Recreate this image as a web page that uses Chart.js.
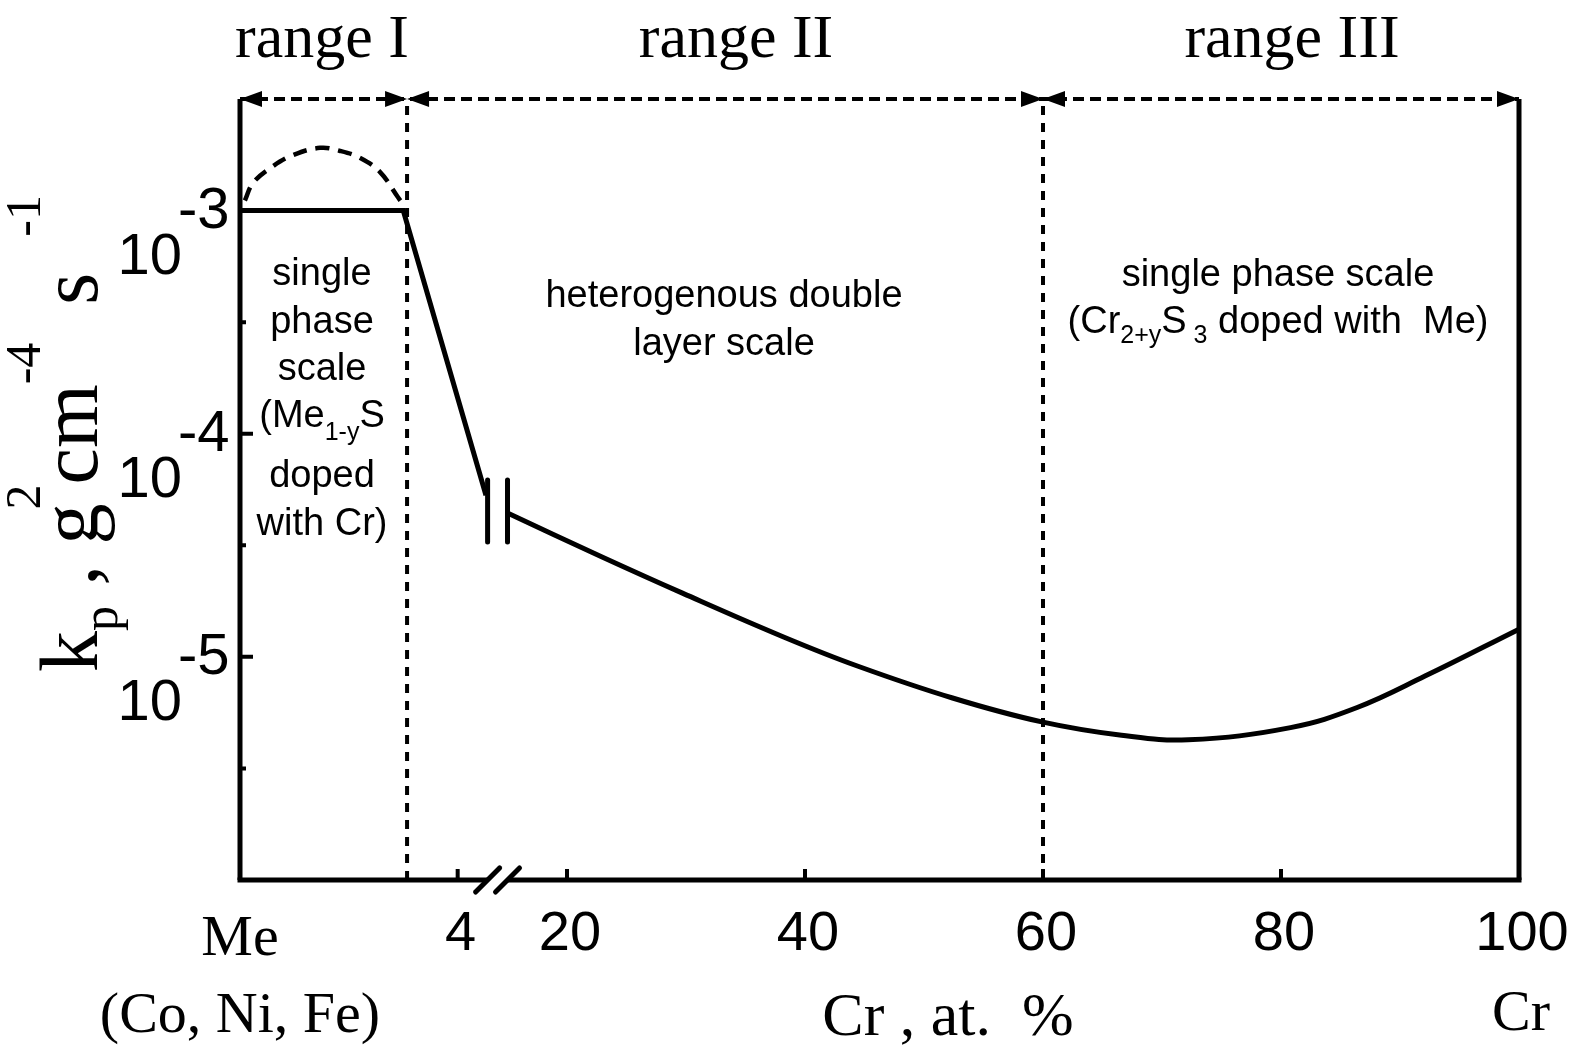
<!DOCTYPE html>
<html>
<head>
<meta charset="utf-8">
<script src="https://cdn.jsdelivr.net/npm/chart.js@4"></script>
<style>
  html, body { margin: 0; padding: 0; background: #fff; }
  canvas { display: block; }
</style>
</head>
<body>
<canvas id="chart" width="1575" height="1048"></canvas>
<script>
/////////////////////
//    Data         //
/////////////////////
// Cr content in at.% and parabolic rate constant kp (g^2 cm^-4 s^-1)
const rangeICr = [0, 3.0, 4.52];                 // plateau then steep drop
const rangeIKp = [1e-3, 1e-3, 5.3e-5];
const arcCr = [0.09, 0.24, 0.59, 0.97, 1.47, 1.84, 2.21, 2.57, 2.90, 2.98];   // dashed hump
const arcKp = [1.11e-3, 1.33e-3, 1.57e-3, 1.77e-3, 1.91e-3, 1.85e-3, 1.72e-3, 1.49e-3, 1.15e-3, 1.08e-3];
const curveCr = [15, 22.9, 29.7, 38.2, 44.4, 52.4, 59.9, 66.6, 72.2, 80.8, 86.4, 92.1, 100];
const curveKp = [4.41e-5, 2.81e-5, 1.93e-5, 1.228e-5, 9.10e-6, 6.54e-6, 5.11e-6, 4.45e-6, 4.25e-6, 4.82e-6, 5.93e-6, 8.20e-6, 1.331e-5];
const breakCr = [4.55, 15];                      // the "||" break in the curve
const breakKp = [6.2e-5, 3.27e-5];
const boundaryCr = [3.07, 60];                   // range boundaries
const rangeEdgeCr = [0, 3.07, 60, 100];
const rangeLabels = ['range I', 'range II', 'range III'];
const xTickCr = [4, 20, 40, 60, 80, 100];
const xTickLabels = ['4', '20', '40', '60', '80', '100'];
const yTickKp = [1e-3, 1e-4, 1e-5];
const yTickExp = ['-3', '-4', '-5'];
const yMinorKp = [Math.pow(10, -3.5), Math.pow(10, -4.5), Math.pow(10, -5.5)];

const Y_MIN = 1e-6;
const Y_MAX = Math.pow(10, -2.5);

/////////////////////
//    Constants    //
/////////////////////
const SERIF = '"Liberation Serif", "Times New Roman", serif';
const SANS = '"Liberation Sans", Arial, sans-serif';
const LEFT_END = 5;          // Me side of the broken axis covers 0..5 at.%
const LEFT_ORIGIN = -7.48;   // axis position of pure Me
const LEFT_STRETCH = 4.573;  // axis units per at.% on the Me side

// Broken x axis: stretched 0-5 at.% on the left, true at.% afterwards
function axisX(cr) {
  return cr <= LEFT_END ? LEFT_ORIGIN + cr * LEFT_STRETCH : cr;
}

function toPoints(xs, ys) {
  return xs.map((cr, i) => ({ x: axisX(cr), y: ys[i] }));
}

function vertical(cr, lo, hi) {
  return [{ x: axisX(cr), y: lo }, { x: axisX(cr), y: hi }];
}

// Draw a run list [[text, font, dy, dx], ...] starting at x (align left/center)
function drawRuns(ctx, runs, x, y, align) {
  let total = 0;
  const widths = runs.map(([t, f, dy, dx]) => {
    ctx.font = f;
    const w = ctx.measureText(t).width;
    total += w + (dx || 0);
    return w;
  });
  let cx = align === 'center' ? x - total / 2 : x;
  ctx.textAlign = 'left';
  ctx.textBaseline = 'alphabetic';
  runs.forEach(([t, f, dy, dx], i) => {
    ctx.font = f;
    cx += dx || 0;
    ctx.fillText(t, cx, y + (dy || 0));
    cx += widths[i];
  });
}

function arrowHead(ctx, tipX, y, dir) {
  const len = 22, half = 8;
  ctx.beginPath();
  ctx.moveTo(tipX, y);
  ctx.lineTo(tipX - dir * len, y - half);
  ctx.lineTo(tipX - dir * len, y + half);
  ctx.closePath();
  ctx.fill();
}

const schematic = {
  id: 'schematic',
  beforeDatasetsDraw(chart) {
    const { ctx, chartArea: a, scales: { x, y } } = chart;
    ctx.save();
    ctx.strokeStyle = '#000';
    ctx.lineCap = 'butt';

    // left and right axes
    ctx.lineWidth = 5;
    ctx.beginPath();
    ctx.moveTo(a.left, a.top);
    ctx.lineTo(a.left, a.bottom);
    ctx.moveTo(a.right, a.top);
    ctx.lineTo(a.right, a.bottom);
    ctx.stroke();

    // bottom axis with the break
    const b1 = x.getPixelForValue(axisX(breakCr[0]));
    const b2 = x.getPixelForValue(axisX(breakCr[1]));
    ctx.beginPath();
    ctx.moveTo(a.left - 2.5, a.bottom);
    ctx.lineTo(b1, a.bottom);
    ctx.moveTo(b2, a.bottom);
    ctx.lineTo(a.right + 2.5, a.bottom);
    ctx.stroke();
    ctx.lineCap = 'round';
    ctx.lineWidth = 5;
    for (const bx of [b1, b2]) {
      ctx.beginPath();
      ctx.moveTo(bx - 12, a.bottom + 12);
      ctx.lineTo(bx + 12, a.bottom - 12);
      ctx.stroke();
    }

    // ticks
    ctx.lineCap = 'butt';
    ctx.lineWidth = 4;
    ctx.beginPath();
    for (const cr of xTickCr.slice(0, -1)) {
      const px = x.getPixelForValue(axisX(cr));
      ctx.moveTo(px, a.bottom);
      ctx.lineTo(px, a.bottom - 11);
    }
    for (const kp of yTickKp) {
      const py = y.getPixelForValue(kp);
      ctx.moveTo(a.left, py);
      ctx.lineTo(a.left + 13, py);
    }
    for (const kp of yMinorKp) {
      const py = y.getPixelForValue(kp);
      ctx.moveTo(a.left, py);
      ctx.lineTo(a.left + 6, py);
    }
    ctx.stroke();
    ctx.restore();
  },
  afterDraw(chart) {
    const { ctx, chartArea: a, scales: { x, y } } = chart;
    ctx.save();
    ctx.fillStyle = '#000';

    // arrowheads on the top dotted line
    const edges = rangeEdgeCr.map(cr => x.getPixelForValue(axisX(cr)));
    arrowHead(ctx, edges[0], a.top, -1);
    for (const e of edges.slice(1, -1)) {
      arrowHead(ctx, e, a.top, 1);
      arrowHead(ctx, e, a.top, -1);
    }
    arrowHead(ctx, edges[edges.length - 1], a.top, 1);

    // range titles
    const rangeCenters = [322, 736, 1292];
    ctx.font = `62px ${SERIF}`;
    ctx.textAlign = 'center';
    rangeLabels.forEach((t, i) => ctx.fillText(t, rangeCenters[i], 57));

    // y tick labels 10^n
    yTickKp.forEach((kp, i) => {
      const py = y.getPixelForValue(kp);
      ctx.font = `58px ${SANS}`;
      ctx.textAlign = 'right';
      ctx.fillText('10', 182, py + 63);
      ctx.textAlign = 'left';
      ctx.fillText(yTickExp[i], 178, py + 17);
    });

    // x tick labels
    ctx.font = `56px ${SANS}`;
    ctx.textAlign = 'center';
    xTickCr.forEach((cr, i) => {
      ctx.fillText(xTickLabels[i], x.getPixelForValue(axisX(cr)) + 3, 950);
    });

    // x axis names
    ctx.font = `58px ${SERIF}`;
    const mePx = x.getPixelForValue(axisX(0));
    ctx.fillText('Me', mePx, 955);
    ctx.fillText('(Co, Ni, Fe)', mePx, 1032);
    ctx.fillText('Cr', a.right + 2, 1030);
    ctx.font = `62px ${SERIF}`;
    ctx.fillText('Cr , at.  %', 948, 1035);

    // y axis title (rotated)
    ctx.save();
    ctx.translate(97, 672);
    ctx.rotate(-Math.PI / 2);
    const big = `82px ${SERIF}`, small = `50px ${SERIF}`;
    drawRuns(ctx, [
      ['k', big, 0], ['p', small, 20], [' , ', big, 0], ['g', big, 0], ['2', small, -57, -6],
      ['cm', big, 0], ['-4', small, -57], ['s', big, 0, 38], ['-1', small, -57, 36]
    ], 0, 0, 'left');
    ctx.restore();

    // annotations
    const txt = `38px ${SANS}`, sub = `25px ${SANS}`;
    ctx.textAlign = 'center';
    ctx.font = txt;
    ctx.fillText('single', 322, 285);
    ctx.fillText('phase', 322, 333);
    ctx.fillText('scale', 322, 380);
    drawRuns(ctx, [['(Me', txt, 0], ['1-y', sub, 13], ['S', txt, 0]], 322, 427, 'center');
    ctx.textAlign = 'center';
    ctx.font = txt;
    ctx.fillText('doped', 322, 487);
    ctx.fillText('with Cr)', 322, 535);

    ctx.fillText('heterogenous double', 724, 307);
    ctx.fillText('layer scale', 724, 355);

    ctx.fillText('single phase scale', 1278, 286);
    drawRuns(ctx, [
      ['(Cr', txt, 0], ['2+y', sub, 10], ['S', txt, 0], [' 3', sub, 10], [' doped with  Me)', txt, 0]
    ], 1278, 333, 'center');

    ctx.restore();
  }
};

const black = '#000';
const data = {
  datasets: [
    { data: toPoints(rangeICr, rangeIKp), borderColor: black, borderWidth: 5, tension: 0 },
    { data: toPoints(arcCr, arcKp), borderColor: black, borderWidth: 4.5, borderDash: [14, 9], tension: 0.4 },
    { data: toPoints(curveCr, curveKp), borderColor: black, borderWidth: 5, tension: 0.4 },
    { data: vertical(breakCr[0], breakKp[0], breakKp[1]), borderColor: black, borderWidth: 5, borderCapStyle: 'round' },
    { data: vertical(breakCr[1], breakKp[0], breakKp[1]), borderColor: black, borderWidth: 5, borderCapStyle: 'round' },
    { data: vertical(boundaryCr[0], Y_MIN, Y_MAX), borderColor: black, borderWidth: 4, borderDash: [9, 8] },
    { data: vertical(boundaryCr[1], Y_MIN, Y_MAX), borderColor: black, borderWidth: 4, borderDash: [9, 8] },
    { data: [{ x: axisX(0), y: Y_MAX }, { x: axisX(100), y: Y_MAX }], borderColor: black, borderWidth: 4, borderDash: [11, 6] }
  ]
};

new Chart(document.getElementById('chart'), {
  type: 'line',
  data,
  options: {
    responsive: false,
    animation: false,
    clip: false,
    layout: { padding: { left: 240, right: 56, top: 99, bottom: 168 } },
    elements: { point: { radius: 0 }, line: { fill: false } },
    scales: {
      x: { type: 'linear', min: LEFT_ORIGIN, max: 100, display: false },
      y: { type: 'logarithmic', min: Y_MIN, max: Y_MAX, display: false }
    },
    plugins: { legend: { display: false }, tooltip: { enabled: false } }
  },
  plugins: [schematic]
});
</script>
</body>
</html>
